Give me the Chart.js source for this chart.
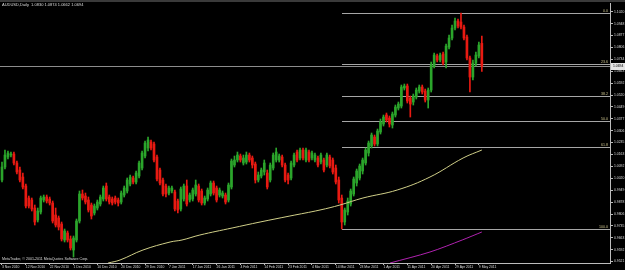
<!DOCTYPE html>
<html>
<head>
<meta charset="utf-8">
<title>AUDUSD,Daily</title>
<script src="https://cdn.jsdelivr.net/npm/chart.js@4.4.1/dist/chart.umd.min.js"></script>
<style>
    html, body { margin: 0; padding: 0; background: #000; overflow: hidden; }
    #wrap { width: 625px; height: 270px; overflow: hidden; position: relative; }
    canvas { display: block; }
</style>
</head>
<body>
<div id="wrap"><canvas id="chart" width="660" height="270"></canvas></div>
<script>
const chartTitle = 'AUDUSD,Daily  1.0830 1.0874 1.0662 1.0694';
const copyright = 'MetaTrader, \u00a9 2001-2011 MetaQuotes Software Corp.';

// bottom axis: one label every 8 bars
const dateTickBars = [0, 8, 16, 24, 32, 40, 48, 56, 64, 72, 80, 88, 96, 104, 112, 120, 128, 136, 144, 152, 160];
const dateLabels = [
    '3 Nov 2010', '12 Nov 2010', '22 Nov 2010', '1 Dec 2010', '10 Dec 2010', '20 Dec 2010', '29 Dec 2010',
    '7 Jan 2011', '17 Jan 2011', '26 Jan 2011', '4 Feb 2011', '14 Feb 2011', '23 Feb 2011', '4 Mar 2011',
    '14 Mar 2011', '23 Mar 2011', '1 Apr 2011', '11 Apr 2011', '20 Apr 2011', '29 Apr 2011', '9 May 2011'
];

const priceTicks = [
    1.1020, 1.0948, 1.0877, 1.0806, 1.0734, 1.0663, 1.0592, 1.0520, 1.0449, 1.0377, 1.0306,
    1.0235, 1.0163, 1.0092, 1.0020, 0.9949, 0.9878, 0.9806, 0.9735, 0.9663, 0.9592, 0.9521
];

// daily bars: [open, high, low, close]
const ohlc = [
    [1.0010,1.0118,0.9998,1.0088], [1.0088,1.0190,1.0076,1.0160], [1.0148,1.0184,1.0136,1.0172], [1.0160,1.0178,1.0148,1.0166],
    [1.0166,1.0178,1.0100,1.0112], [1.0112,1.0124,1.0046,1.0058], [1.0070,1.0088,0.9998,1.0010], [1.0028,1.0052,0.9956,0.9968],
    [0.9974,0.9986,0.9842,0.9854], [0.9902,0.9914,0.9842,0.9854], [0.9890,0.9902,0.9824,0.9836], [0.9842,0.9860,0.9740,0.9758],
    [0.9770,0.9842,0.9758,0.9824], [0.9818,0.9914,0.9806,0.9902], [0.9890,0.9920,0.9878,0.9908], [0.9908,0.9920,0.9872,0.9884],
    [0.9896,0.9908,0.9860,0.9872], [0.9872,0.9884,0.9752,0.9764], [0.9800,0.9842,0.9728,0.9740], [0.9782,0.9794,0.9710,0.9728],
    [0.9746,0.9758,0.9644,0.9656], [0.9650,0.9716,0.9638,0.9704], [0.9692,0.9704,0.9638,0.9650], [0.9656,0.9674,0.9590,0.9602],
    [0.9590,0.9674,0.9548,0.9662], [0.9650,0.9776,0.9638,0.9764], [0.9764,0.9944,0.9752,0.9926], [0.9926,0.9950,0.9890,0.9902],
    [0.9914,0.9932,0.9866,0.9878], [0.9890,0.9908,0.9818,0.9830], [0.9860,0.9872,0.9776,0.9794], [0.9812,0.9866,0.9800,0.9854],
    [0.9842,0.9890,0.9830,0.9878], [0.9866,0.9920,0.9854,0.9908], [0.9896,0.9974,0.9884,0.9962], [0.9974,0.9992,0.9884,0.9896],
    [0.9908,0.9920,0.9866,0.9878], [0.9896,0.9908,0.9860,0.9872], [0.9902,0.9914,0.9866,0.9878], [0.9890,0.9902,0.9854,0.9872],
    [0.9878,0.9944,0.9866,0.9932], [0.9920,0.9974,0.9908,0.9962], [0.9944,1.0022,0.9932,1.0010], [0.9986,1.0040,0.9974,1.0028],
    [1.0022,1.0034,0.9986,0.9998], [0.9998,1.0064,0.9986,1.0052], [1.0034,1.0124,1.0022,1.0112], [1.0082,1.0184,1.0070,1.0172],
    [1.0154,1.0244,1.0142,1.0232], [1.0202,1.0268,1.0184,1.0250], [1.0238,1.0250,1.0190,1.0202], [1.0226,1.0238,1.0118,1.0130],
    [1.0148,1.0160,1.0004,1.0016], [1.0070,1.0082,0.9980,0.9992], [1.0010,1.0022,0.9914,0.9926], [0.9974,0.9986,0.9908,0.9926],
    [0.9932,0.9974,0.9920,0.9962], [0.9944,0.9974,0.9932,0.9962], [0.9938,0.9950,0.9824,0.9836], [0.9884,0.9896,0.9812,0.9830],
    [0.9836,0.9968,0.9824,0.9956], [0.9896,0.9986,0.9884,0.9974], [0.9974,1.0010,0.9854,0.9866], [0.9890,0.9932,0.9878,0.9920],
    [0.9896,0.9962,0.9884,0.9950], [0.9926,1.0010,0.9914,0.9980], [0.9974,0.9986,0.9878,0.9890], [0.9944,0.9956,0.9860,0.9872],
    [0.9872,0.9914,0.9860,0.9902], [0.9896,0.9962,0.9884,0.9950], [0.9926,1.0004,0.9914,0.9992], [0.9992,1.0004,0.9920,0.9932],
    [0.9962,0.9974,0.9878,0.9890], [0.9920,0.9962,0.9908,0.9950], [0.9914,0.9944,0.9902,0.9932], [0.9920,0.9932,0.9866,0.9878],
    [0.9890,0.9992,0.9878,0.9980], [0.9968,1.0136,0.9956,1.0124], [1.0100,1.0154,1.0088,1.0130], [1.0130,1.0178,1.0118,1.0160],
    [1.0154,1.0166,1.0118,1.0130], [1.0112,1.0160,1.0100,1.0142], [1.0118,1.0178,1.0106,1.0160], [1.0160,1.0172,1.0118,1.0130],
    [1.0142,1.0154,1.0082,1.0100], [1.0106,1.0118,0.9992,1.0010], [1.0010,1.0058,0.9998,1.0040], [1.0034,1.0082,1.0022,1.0070],
    [1.0058,1.0130,1.0040,1.0112], [1.0052,1.0070,0.9956,0.9968], [1.0010,1.0112,0.9998,1.0100], [1.0082,1.0172,1.0070,1.0160],
    [1.0130,1.0202,1.0118,1.0178], [1.0130,1.0166,1.0118,1.0154], [1.0148,1.0160,1.0088,1.0100], [1.0100,1.0112,0.9998,1.0010],
    [1.0040,1.0052,0.9986,1.0010], [1.0022,1.0124,1.0010,1.0112], [1.0100,1.0172,1.0088,1.0160], [1.0178,1.0190,1.0118,1.0130],
    [1.0142,1.0202,1.0130,1.0190], [1.0190,1.0202,1.0130,1.0142], [1.0130,1.0202,1.0118,1.0190], [1.0178,1.0190,1.0118,1.0130],
    [1.0142,1.0184,1.0130,1.0172], [1.0130,1.0172,1.0118,1.0160], [1.0142,1.0154,1.0088,1.0100], [1.0118,1.0172,1.0106,1.0160],
    [1.0130,1.0142,1.0058,1.0070], [1.0100,1.0172,1.0088,1.0160], [1.0148,1.0160,1.0082,1.0094], [1.0130,1.0142,1.0046,1.0058],
    [1.0082,1.0100,0.9986,0.9998], [1.0010,1.0028,0.9872,0.9890], [0.9902,0.9920,0.9716,0.9758], [0.9758,0.9842,0.9740,0.9830],
    [0.9818,0.9902,0.9800,0.9884], [0.9866,0.9956,0.9854,0.9944], [0.9926,1.0028,0.9914,1.0016], [0.9992,1.0076,0.9974,1.0064],
    [1.0022,1.0106,1.0010,1.0094], [1.0064,1.0142,1.0046,1.0130], [1.0112,1.0202,1.0100,1.0190], [1.0172,1.0244,1.0154,1.0232],
    [1.0214,1.0292,1.0202,1.0280], [1.0268,1.0280,1.0214,1.0226], [1.0226,1.0316,1.0214,1.0304], [1.0298,1.0376,1.0286,1.0358],
    [1.0346,1.0400,1.0334,1.0388], [1.0400,1.0412,1.0358,1.0370], [1.0382,1.0394,1.0328,1.0346], [1.0340,1.0418,1.0322,1.0406],
    [1.0400,1.0460,1.0388,1.0448], [1.0442,1.0478,1.0430,1.0466], [1.0454,1.0580,1.0442,1.0568], [1.0562,1.0586,1.0550,1.0574],
    [1.0574,1.0586,1.0472,1.0484], [1.0502,1.0514,1.0388,1.0466], [1.0478,1.0526,1.0460,1.0514], [1.0508,1.0562,1.0496,1.0550],
    [1.0544,1.0580,1.0532,1.0568], [1.0568,1.0580,1.0526,1.0538], [1.0544,1.0556,1.0478,1.0490], [1.0490,1.0562,1.0442,1.0550],
    [1.0550,1.0718,1.0538,1.0700], [1.0694,1.0772,1.0682,1.0760], [1.0754,1.0766,1.0718,1.0730], [1.0730,1.0772,1.0718,1.0760],
    [1.0766,1.0778,1.0700,1.0712], [1.0718,1.0826,1.0682,1.0814], [1.0808,1.0880,1.0796,1.0862], [1.0862,1.0940,1.0850,1.0922],
    [1.0922,1.0982,1.0910,1.0964], [1.0964,1.0976,1.0922,1.0934], [1.0958,1.1012,1.0916,1.0928], [1.0928,1.0940,1.0850,1.0862],
    [1.0868,1.0880,1.0730,1.0742], [1.0742,1.0754,1.0538,1.0628], [1.0628,1.0730,1.0610,1.0712], [1.0712,1.0778,1.0694,1.0760],
    [1.0754,1.0838,1.0742,1.0820], [1.0830,1.0874,1.0662,1.0694]
];

// indicator lines: [bar, price]
const slowMaPoints = [
    [35.6, 0.9512], [39.6, 0.9530], [47.3, 0.9590], [56.4, 0.9638], [60.4, 0.9650], [66.4, 0.9680],
    [77.2, 0.9722], [86.6, 0.9758], [96.6, 0.9794], [106.7, 0.9830], [113.4, 0.9860], [121.1, 0.9902],
    [132.6, 0.9950], [143.6, 1.0028], [154.7, 1.0142], [161, 1.0190]
];
const purpleLinePoints = [[130.2, 0.9512], [143.6, 0.9578], [154.4, 0.9650], [161, 0.9698]];

const fiboLevels = [0, 23.6, 38.2, 50, 61.8, 100];
const fiboFromBar = 114;
const fiboToBar = 154;

(function () {
    const FONT = '"Liberation Sans", Arial, sans-serif';
    const UP = '#2ba52b';
    const DOWN = '#e81a12';
    const AXIS = '#bcbcbc';
    const TEXT = '#dcdcdc';

    const colors = ohlc.map(c => (c[3] >= c[0] ? UP : DOWN));
    const lastClose = ohlc[ohlc.length - 1][3];
    const fiboLow = ohlc[fiboFromBar][2];
    const fiboHigh = ohlc[fiboToBar][1];

    function font(size) {
        return size + 'px ' + FONT;
    }

    function hline(ctx, x0, x1, y) {
        const py = Math.round(y) + 0.5;
        ctx.beginPath();
        ctx.moveTo(x0, py);
        ctx.lineTo(x1, py);
        ctx.stroke();
    }

    const overlay = {
        id: 'mtOverlay',
        beforeDraw(chart) {
            const ctx = chart.ctx;
            ctx.save();
            ctx.fillStyle = '#3a3a3a';
            ctx.fillRect(0, 0, chart.width, 2);
            ctx.restore();
        },
        beforeDatasetsDraw(chart) {
            const { ctx, chartArea, scales: { x, y } } = chart;
            ctx.save();
            ctx.lineWidth = 1;

            // bid line
            ctx.strokeStyle = '#8c8c8c';
            hline(ctx, chartArea.left, chartArea.right, y.getPixelForValue(lastClose));

            // fibo retracement
            const x0 = Math.round(x.getPixelForValue(fiboFromBar));
            ctx.font = font(3.6);
            ctx.textAlign = 'right';
            ctx.textBaseline = 'bottom';
            fiboLevels.forEach(level => {
                const price = fiboHigh - (fiboHigh - fiboLow) * level / 100;
                const py = y.getPixelForValue(price);
                ctx.strokeStyle = '#a6a6a6';
                hline(ctx, x0, chartArea.right, py);
                ctx.fillStyle = '#cbc28c';
                ctx.fillText(level.toFixed(1), chartArea.right - 2, Math.round(py));
            });
            ctx.restore();
        },
        afterDraw(chart) {
            const { ctx, chartArea, scales: { y } } = chart;
            ctx.save();
            ctx.fillStyle = TEXT;
            ctx.textAlign = 'left';
            ctx.textBaseline = 'top';
            ctx.font = font(4);
            ctx.fillText(chartTitle, 2, 2.5);
            ctx.font = font(3.6);
            ctx.fillText(copyright, 2, 257.5);

            // price box on the axis
            const py = Math.round(y.getPixelForValue(lastClose));
            ctx.fillStyle = '#e4e4e4';
            ctx.fillRect(chartArea.right + 1, py - 3, 24, 7);
            ctx.fillStyle = '#000';
            ctx.textBaseline = 'middle';
            ctx.font = font(3.4);
            ctx.fillText(lastClose.toFixed(4), chartArea.right + 3, py + 0.5);
            ctx.restore();
        }
    };

    new Chart(document.getElementById('chart'), {
        type: 'bar',
        data: {
            datasets: [
                {
                    type: 'line',
                    data: slowMaPoints.map(p => ({ x: p[0], y: p[1] })),
                    borderColor: '#d0cf88',
                    borderWidth: 1,
                    pointRadius: 0,
                    tension: 0.4,
                    order: 0,
                },
                {
                    type: 'line',
                    data: purpleLinePoints.map(p => ({ x: p[0], y: p[1] })),
                    borderColor: '#b022b0',
                    borderWidth: 1,
                    pointRadius: 0,
                    tension: 0.3,
                    order: 0,
                },
                {
                    data: ohlc.map((c, i) => ({ x: i, y: [c[0], c[3]] })),
                    backgroundColor: colors,
                    barThickness: 2,
                    minBarLength: 1,
                    grouped: false,
                    order: 1,
                },
                {
                    data: ohlc.map((c, i) => ({ x: i, y: [c[2], c[1]] })),
                    backgroundColor: colors,
                    barThickness: 1,
                    grouped: false,
                    order: 2,
                },
            ],
        },
        options: {
            responsive: false,
            animation: false,
            devicePixelRatio: 1,
            events: [],
            layout: { padding: { top: 3, left: 0, right: 0, bottom: 0 } },
            plugins: { legend: { display: false }, tooltip: { enabled: false } },
            scales: {
                x: {
                    type: 'linear',
                    min: -0.67,
                    max: 204,
                    offset: false,
                    afterFit(scale) { scale.height = 7; },
                    afterBuildTicks(scale) { scale.ticks = dateTickBars.map(v => ({ value: v })); },
                    ticks: {
                        autoSkip: false,
                        maxRotation: 0,
                        minRotation: 0,
                        align: 'start',
                        padding: 0,
                        color: TEXT,
                        font: { family: FONT, size: 3.4 },
                        callback: (value, index) => dateLabels[index],
                    },
                    grid: { drawOnChartArea: false, drawTicks: true, tickLength: 2, color: AXIS, offset: false },
                    border: { display: true, color: AXIS, width: 1 },
                },
                y: {
                    type: 'linear',
                    position: 'right',
                    min: 0.9512,
                    max: 1.1072,
                    beginAtZero: false,
                    afterFit(scale) { scale.width = 50; },
                    afterBuildTicks(scale) { scale.ticks = priceTicks.map(v => ({ value: v })); },
                    ticks: {
                        autoSkip: false,
                        padding: 1,
                        color: TEXT,
                        font: { family: FONT, size: 3.4 },
                        callback: value => Number(value).toFixed(4),
                    },
                    grid: { drawOnChartArea: false, drawTicks: true, tickLength: 3, color: AXIS },
                    border: { display: true, color: AXIS, width: 1 },
                },
            },
        },
        plugins: [overlay],
    });
})();
</script>
</body>
</html>
